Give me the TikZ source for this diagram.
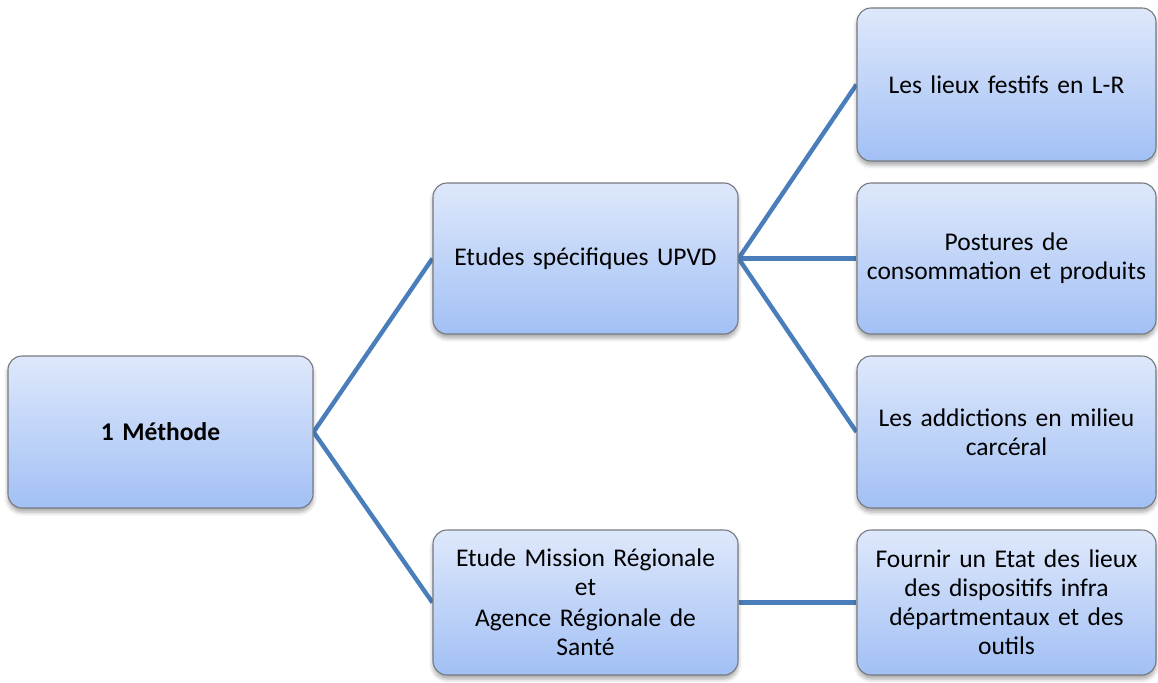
\documentclass[tikz,border=0pt]{standalone}
\usepackage{fontspec}
\setmainfont{Carlito}[WordSpace={0.85,0.5,0.3}]
\usetikzlibrary{shadows.blur}
\pgfdeclarelayer{background}
\pgfsetlayers{background,main}
\definecolor{boxtop}{RGB}{222,232,251}
\definecolor{boxbot}{RGB}{162,192,245}
\definecolor{boxline}{RGB}{118,122,128}
\definecolor{linkblue}{RGB}{74,126,187}
\tikzset{
  box/.style={draw=boxline, line width=1.1pt, rounded corners=14pt,
    top color=boxtop, bottom color=boxbot, align=center, inner sep=2pt,
    font=\fontsize{25.5}{29}\selectfont,
    blur shadow={shadow xshift=0pt, shadow yshift=-4pt, shadow blur radius=4pt, shadow opacity=35}},
  midbox/.style={box, minimum width=305pt, text width=300pt},
  rightbox/.style={box, minimum width=299pt, text width=295pt},
  link/.style={draw=linkblue, line width=4.4pt}
}
\begin{document}
\begin{tikzpicture}[x=1pt,y=-1pt]
\useasboundingbox (0,0) rectangle (1158,682);
\node[midbox, minimum height=152pt] (m) at (160.5,432) {\bfseries 1 Méthode};
\node[midbox, minimum height=151pt] (e) at (585.5,258.5) {Etudes spécifiques UPVD};
\node[midbox, minimum height=145pt] (r) at (585.5,602.5) {Etude Mission Régionale\\et\\[2pt]Agence Régionale de\\Santé};
\node[rightbox, minimum height=153pt] (a) at (1006.5,84.5) {Les lieux festifs en L-R};
\node[rightbox, minimum height=151pt] (b) at (1006.5,258.5) {Postures de\\consommation et produits};
\node[rightbox, minimum height=152pt] (c) at (1006.5,432) {Les addictions en milieu\\carcéral};
\node[rightbox, minimum height=145pt] (d) at (1006.5,602.5) {Fournir un Etat des lieux\\des dispositifs infra\\départmentaux et des\\outils};
\begin{pgfonlayer}{background}
\draw[link] (m.east) -- (e.west);
\draw[link] (m.east) -- (r.west);
\draw[link] (e.east) -- (a.west);
\draw[link] (e.east) -- (b.west);
\draw[link] (e.east) -- (c.west);
\draw[link] (r.east) -- (d.west);
\end{pgfonlayer}
\end{tikzpicture}
\end{document}
